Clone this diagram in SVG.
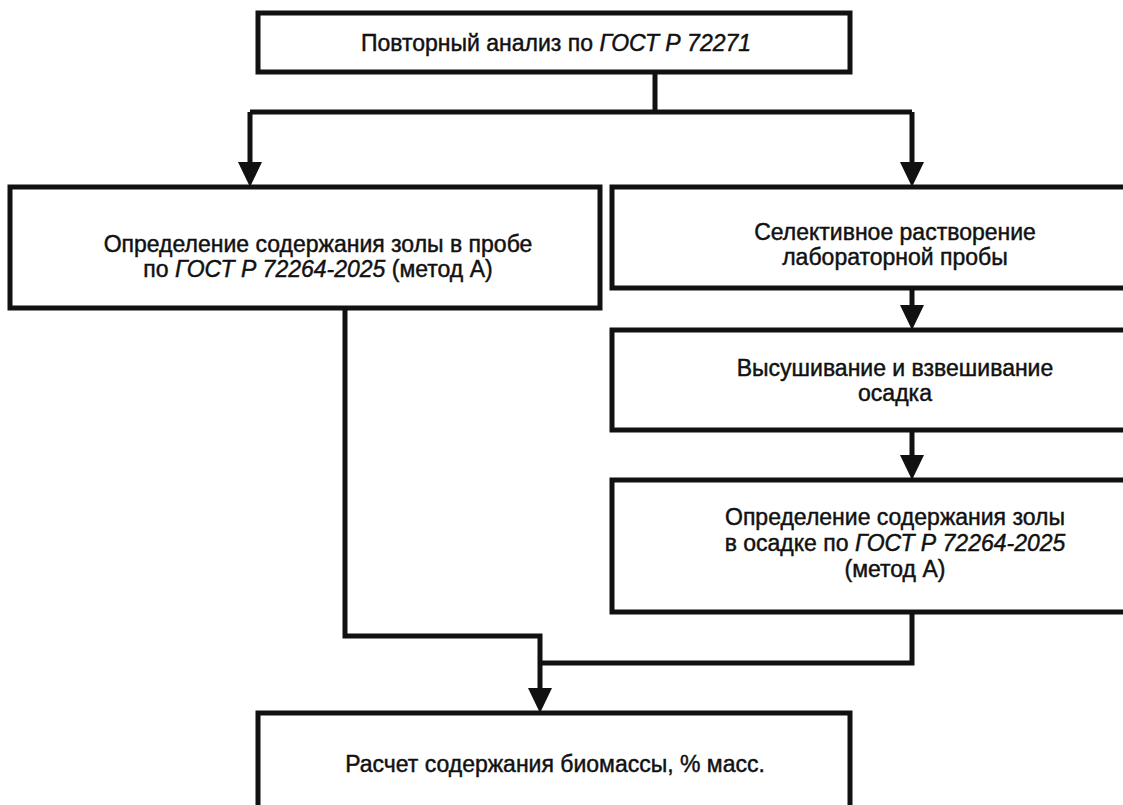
<svg xmlns="http://www.w3.org/2000/svg" width="1123" height="805" viewBox="0 0 1123 805">
<style>
.box{fill:#fff;stroke:#111;stroke-width:5}
.ln{fill:none;stroke:#111;stroke-width:5}
.ah{fill:#111}
text{font-family:"Liberation Sans",Arial,sans-serif;font-size:23px;fill:#111;stroke:#111;stroke-width:0.45;text-anchor:middle}
.i{font-style:italic}
</style>
<rect width="1123" height="805" fill="#fff"/>
<g id="connectors">
<polyline class="ln" points="655,72 655,112"/>
<polyline class="ln" points="250,112 912,112"/>
<polyline class="ln" points="250,112 250,165"/>
<polygon class="ah" points="238,162 262,162 250,187"/>
<polyline class="ln" points="912,112 912,165"/>
<polygon class="ah" points="900,162 924,162 912,187"/>
<polyline class="ln" points="912,288 912,308"/>
<polygon class="ah" points="900,305 924,305 912,330"/>
<polyline class="ln" points="912,430 912,458"/>
<polygon class="ah" points="900,455 924,455 912,480"/>
<polyline class="ln" points="345,308 345,636 540,636 540,690"/>
<polyline class="ln" points="912,612 912,663 540,663"/>
<polygon class="ah" points="528,688 552,688 540,713"/>
</g>
<g id="n1"><rect class="box" x="258" y="13" width="592" height="59"/>
<text x="556" y="51">Повторный анализ по <tspan class="i">ГОСТ Р 72271</tspan></text></g>
<g id="n2"><rect class="box" x="10" y="187" width="590" height="121"/>
<text x="318" y="252">Определение содержания золы в пробе</text>
<text x="318" y="277">по <tspan class="i">ГОСТ Р 72264-2025</tspan> (метод А)</text></g>
<g id="n3"><rect class="box" x="612" y="187" width="520" height="101"/>
<text x="895" y="240">Селективное растворение</text>
<text x="895" y="265">лабораторной пробы</text></g>
<g id="n4"><rect class="box" x="612" y="330" width="520" height="100"/>
<text x="895" y="376">Высушивание и взвешивание</text>
<text x="895" y="401">осадка</text></g>
<g id="n5"><rect class="box" x="612" y="480" width="520" height="132"/>
<text x="895" y="525">Определение содержания золы</text>
<text x="895" y="551">в осадке по <tspan class="i">ГОСТ Р 72264-2025</tspan></text>
<text x="895" y="577">(метод А)</text></g>
<g id="n6"><rect class="box" x="258" y="713" width="592" height="100"/>
<text x="555" y="772">Расчет содержания биомассы, % масс.</text></g>
</svg>
